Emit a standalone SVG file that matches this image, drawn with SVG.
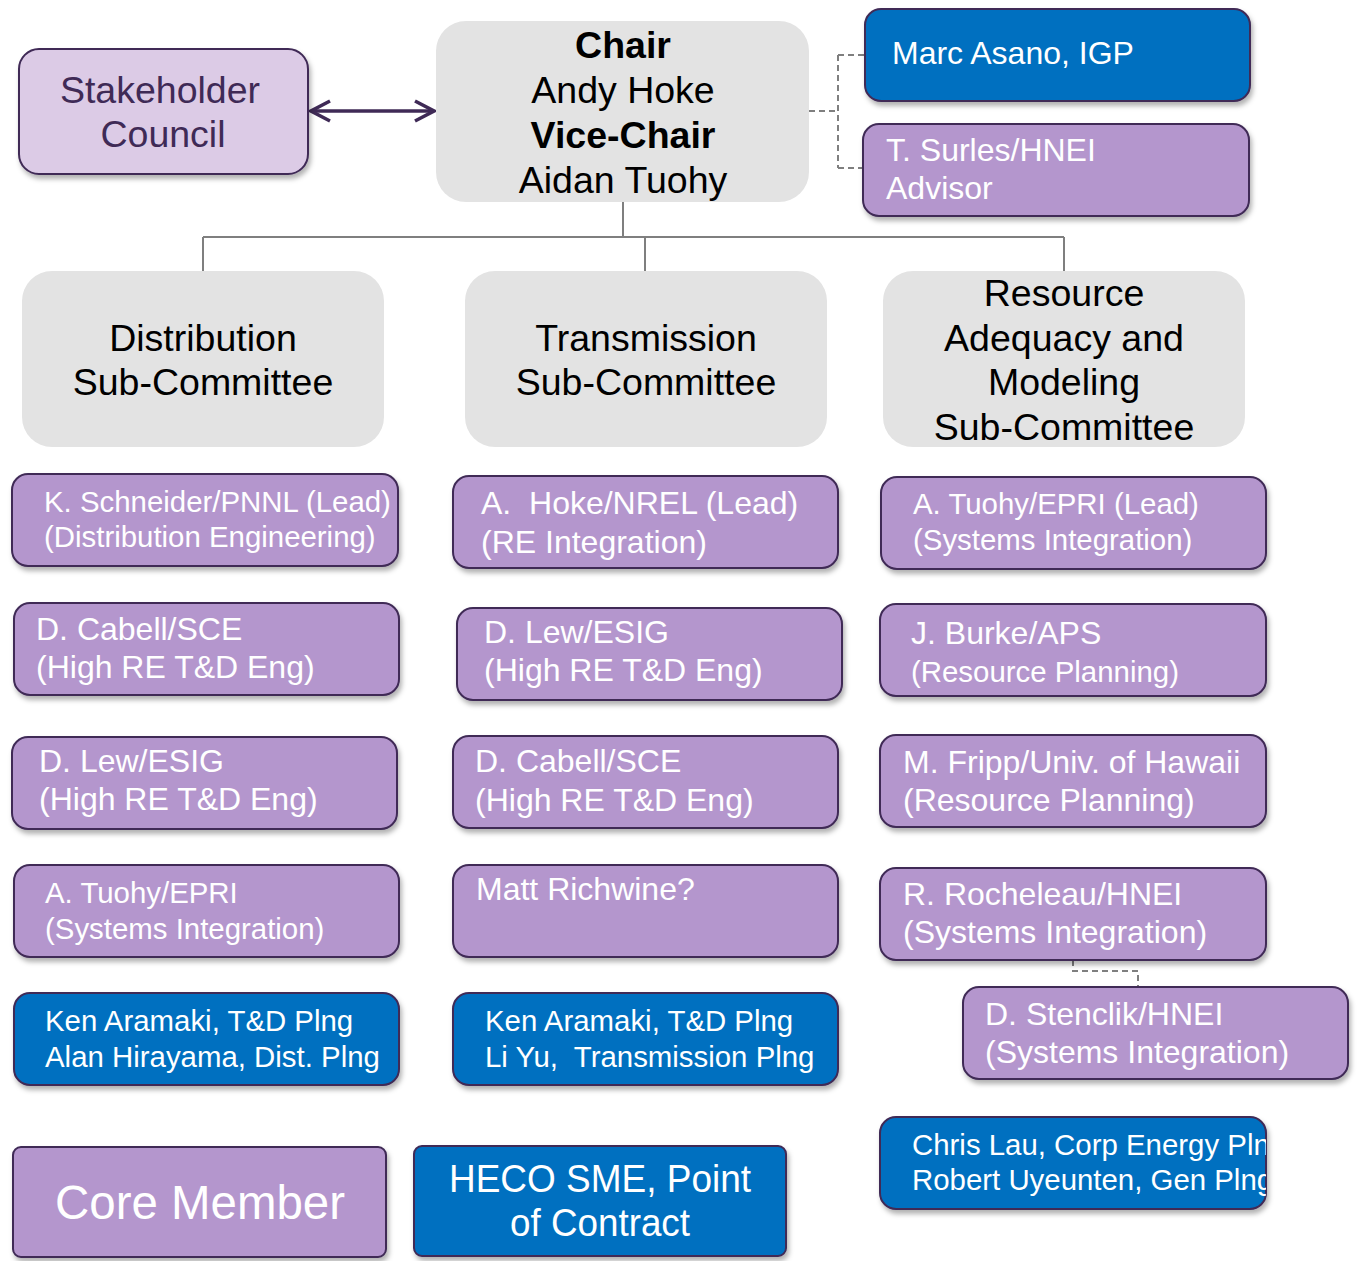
<svg xmlns="http://www.w3.org/2000/svg" width="1358" height="1261" viewBox="0 0 1358 1261">
<defs>
<filter id="sh" x="-5%" y="-10%" width="112%" height="130%">
<feDropShadow dx="2" dy="4" stdDeviation="2.5" flood-color="#000" flood-opacity="0.3"/>
</filter>
<marker id="ah" viewBox="0 0 24 24" refX="21" refY="12" markerWidth="24" markerHeight="24" markerUnits="userSpaceOnUse" orient="auto-start-reverse">
<path d="M2,2 L21,12 L2,22" fill="none" stroke="#3f2a56" stroke-width="3.5" stroke-linejoin="miter"/>
</marker>
<clipPath id="clipChris"><rect x="880" y="1117" width="386" height="92" rx="16"/></clipPath>
</defs>
<style>
text{font-family:"Liberation Sans",Arial,sans-serif}
.pur{fill:#b496cd;stroke:#3f2a56;stroke-width:2;filter:url(#sh)}
.blu{fill:#0070c0;stroke:#3f2a56;stroke-width:2;filter:url(#sh)}
.gry{fill:#e3e3e3}
.w{fill:#fff}
.k{fill:#000}
.big{font-size:37.5px}
.m{font-size:32px}
.s{font-size:29.4px}
.tree{stroke:#7f7f7f;stroke-width:2;fill:none}
.dash{stroke:#7f7f7f;stroke-width:2;fill:none;stroke-dasharray:6,4}
</style>
<rect width="1358" height="1261" fill="#fff"/>
<g id="connectors">
<line x1="311" y1="111" x2="434" y2="111" stroke="#3f2a56" stroke-width="3.5" marker-start="url(#ah)" marker-end="url(#ah)"/>
<path class="tree" d="M623,202 V237 M203,237 H1064 M203,237 V271 M645,237 V271 M1064,237 V271"/>
<path class="dash" d="M809,111 H838 M838,55 V168 M838,55 H865 M838,168 H863"/>
<path class="dash" d="M1073,960 V971 H1138 V986"/>
</g>
<g id="stakeholder">
<rect x="19" y="49" width="289" height="125" rx="20" fill="#dccbe6" stroke="#3f2a56" stroke-width="2" filter="url(#sh)"/>
<text x="160" y="103" class="big" fill="#3f2a56" text-anchor="middle">Stakeholder</text>
<text x="163" y="147" class="big" fill="#3f2a56" text-anchor="middle">Council</text>
</g>
<g id="chair">
<rect class="gry" x="436" y="21" width="373" height="181" rx="30"/>
<text x="623" y="58" class="big k" font-weight="bold" text-anchor="middle">Chair</text>
<text x="623" y="103" class="big k" text-anchor="middle">Andy Hoke</text>
<text x="623" y="148" class="big k" font-weight="bold" text-anchor="middle">Vice-Chair</text>
<text x="623" y="193" class="big k" text-anchor="middle">Aidan Tuohy</text>
</g>
<g id="asano">
<rect class="blu" x="865" y="9" width="385" height="92" rx="16"/>
<text x="892" y="64" class="m w">Marc Asano, IGP</text>
</g>
<g id="surles">
<rect class="pur" x="863" y="124" width="386" height="92" rx="16"/>
<text x="886" y="161" class="m w">T. Surles/HNEI</text>
<text x="886" y="199" class="m w">Advisor</text>
</g>
<g id="dist">
<rect class="gry" x="22" y="271" width="362" height="176" rx="30"/>
<text x="203" y="351" class="big k" text-anchor="middle">Distribution</text>
<text x="203" y="395" class="big k" text-anchor="middle">Sub-Committee</text>
</g>
<g id="trans">
<rect class="gry" x="465" y="271" width="362" height="176" rx="30"/>
<text x="646" y="351" class="big k" text-anchor="middle">Transmission</text>
<text x="646" y="395" class="big k" text-anchor="middle">Sub-Committee</text>
</g>
<g id="resource">
<rect class="gry" x="883" y="271" width="362" height="176" rx="30"/>
<text x="1064" y="306" class="big k" text-anchor="middle">Resource</text>
<text x="1064" y="351" class="big k" text-anchor="middle">Adequacy and</text>
<text x="1064" y="395" class="big k" text-anchor="middle">Modeling</text>
<text x="1064" y="440" class="big k" text-anchor="middle">Sub-Committee</text>
</g>
<g id="schneider">
<rect class="pur" x="12" y="474" width="386" height="92" rx="16"/>
<text x="44" y="512" class="s w">K. Schneider/PNNL (Lead)</text>
<text x="44" y="547" class="s w">(Distribution Engineering)</text>
</g>
<g id="cabell1">
<rect class="pur" x="14" y="603" width="385" height="92" rx="16"/>
<text x="36" y="640" class="m w">D. Cabell/SCE</text>
<text x="36" y="678" class="m w">(High RE T&amp;D Eng)</text>
</g>
<g id="lew1">
<rect class="pur" x="12" y="737" width="385" height="92" rx="16"/>
<text x="39" y="772" class="m w">D. Lew/ESIG</text>
<text x="39" y="810" class="m w">(High RE T&amp;D Eng)</text>
</g>
<g id="tuohy1">
<rect class="pur" x="14" y="865" width="385" height="92" rx="16"/>
<text x="45" y="903" class="s w">A. Tuohy/EPRI</text>
<text x="45" y="939" class="s w">(Systems Integration)</text>
</g>
<g id="aramaki1">
<rect class="blu" x="14" y="993" width="385" height="92" rx="16"/>
<text x="45" y="1031" class="s w">Ken Aramaki, T&amp;D Plng</text>
<text x="45" y="1067" class="s w">Alan Hirayama, Dist. Plng</text>
</g>
<g id="hoke">
<rect class="pur" x="453" y="476" width="385" height="92" rx="16"/>
<text x="481" y="514" class="m w" xml:space="preserve">A.  Hoke/NREL (Lead)</text>
<text x="481" y="553" class="m w">(RE Integration)</text>
</g>
<g id="lew2">
<rect class="pur" x="457" y="608" width="385" height="92" rx="16"/>
<text x="484" y="643" class="m w">D. Lew/ESIG</text>
<text x="484" y="681" class="m w">(High RE T&amp;D Eng)</text>
</g>
<g id="cabell2">
<rect class="pur" x="453" y="736" width="385" height="92" rx="16"/>
<text x="475" y="772" class="m w">D. Cabell/SCE</text>
<text x="475" y="811" class="m w">(High RE T&amp;D Eng)</text>
</g>
<g id="richwine">
<rect class="pur" x="453" y="865" width="385" height="92" rx="16"/>
<text x="476" y="900" class="m w">Matt Richwine?</text>
</g>
<g id="aramaki2">
<rect class="blu" x="453" y="993" width="385" height="92" rx="16"/>
<text x="485" y="1031" class="s w">Ken Aramaki, T&amp;D Plng</text>
<text x="485" y="1067" class="s w" xml:space="preserve">Li Yu,  Transmission Plng</text>
</g>
<g id="tuohy2">
<rect class="pur" x="881" y="477" width="385" height="92" rx="16"/>
<text x="913" y="514" class="s w">A. Tuohy/EPRI (Lead)</text>
<text x="913" y="550" class="s w">(Systems Integration)</text>
</g>
<g id="burke">
<rect class="pur" x="880" y="604" width="386" height="92" rx="16"/>
<text x="911" y="644" class="m w">J. Burke/APS</text>
<text x="911" y="682" class="s w">(Resource Planning)</text>
</g>
<g id="fripp">
<rect class="pur" x="880" y="735" width="386" height="92" rx="16"/>
<text x="903" y="773" class="m w">M. Fripp/Univ. of Hawaii</text>
<text x="903" y="811" class="m w">(Resource Planning)</text>
</g>
<g id="rocheleau">
<rect class="pur" x="880" y="868" width="386" height="92" rx="16"/>
<text x="903" y="905" class="m w">R. Rocheleau/HNEI</text>
<text x="903" y="943" class="m w">(Systems Integration)</text>
</g>
<g id="stenclik">
<rect class="pur" x="963" y="987" width="385" height="92" rx="16"/>
<text x="985" y="1025" class="m w">D. Stenclik/HNEI</text>
<text x="985" y="1063" class="m w">(Systems Integration)</text>
</g>
<g id="lau">
<rect class="blu" x="880" y="1117" width="386" height="92" rx="16"/>
<g clip-path="url(#clipChris)">
<text x="912" y="1155" class="s w">Chris Lau, Corp Energy Plng</text>
<text x="912" y="1190" class="s w">Robert Uyeunten, Gen Plng</text>
</g>
</g>
<g id="core">
<rect class="pur" x="13" y="1147" width="373" height="110" rx="8"/>
<text x="200" y="1219" font-size="48" class="w" text-anchor="middle" textLength="290" lengthAdjust="spacingAndGlyphs">Core Member</text>
</g>
<g id="heco">
<rect class="blu" x="414" y="1146" width="372" height="110" rx="8"/>
<text x="600" y="1192" font-size="38" class="w" text-anchor="middle" textLength="302" lengthAdjust="spacingAndGlyphs">HECO SME, Point</text>
<text x="600" y="1236" font-size="38" class="w" text-anchor="middle" textLength="180" lengthAdjust="spacingAndGlyphs">of Contract</text>
</g>
</svg>
